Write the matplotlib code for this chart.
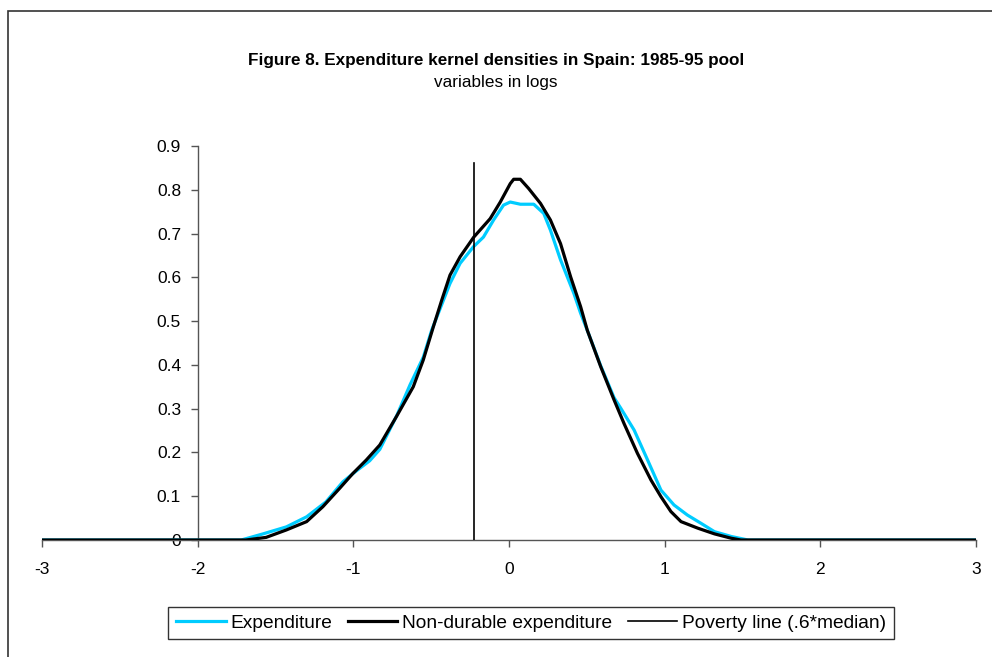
import matplotlib
matplotlib.use("Agg")
import matplotlib.pyplot as plt
from matplotlib.patches import Rectangle

plt.rcParams["font.family"] = ["Liberation Sans", "DejaVu Sans"]

# Kernel density of (log) total expenditure
exp_x = [-3.0, -1.72, -1.58, -1.43, -1.30, -1.176, -1.067, -0.98, -0.895, -0.83,
         -0.72, -0.635, -0.55, -0.497, -0.379, -0.314, -0.228, -0.164, -0.099,
         -0.035, 0.008, 0.073, 0.159, 0.223, 0.266, 0.331, 0.417, 0.46, 0.503,
         0.589, 0.675, 0.718, 0.804, 0.89, 0.976, 1.06, 1.146, 1.234, 1.32,
         1.428, 1.535, 3.0]
exp_y = [0.0, 0.0, 0.014, 0.030, 0.053, 0.087, 0.133, 0.158, 0.181, 0.207,
         0.285, 0.355, 0.418, 0.479, 0.586, 0.632, 0.670, 0.692, 0.731,
         0.765, 0.772, 0.767, 0.767, 0.746, 0.708, 0.640, 0.563, 0.518, 0.479,
         0.398, 0.325, 0.301, 0.251, 0.183, 0.114, 0.080, 0.057, 0.038, 0.019,
         0.008, 0.0, 0.0]

# Kernel density of (log) non-durable expenditure
nd_x = [-3.0, -1.69, -1.56, -1.43, -1.30, -1.196, -1.088, -1.003, -0.916, -0.83,
        -0.723, -0.615, -0.551, -0.486, -0.432, -0.379, -0.314, -0.226, -0.121,
        -0.056, 0.008, 0.03, 0.073, 0.126, 0.202, 0.266, 0.331, 0.396, 0.46,
        0.503, 0.589, 0.675, 0.739, 0.825, 0.912, 0.976, 1.04, 1.105, 1.213,
        1.32, 1.428, 1.49, 3.0]
nd_y = [0.0, 0.0, 0.006, 0.023, 0.042, 0.076, 0.118, 0.152, 0.183, 0.217,
        0.282, 0.350, 0.411, 0.487, 0.548, 0.605, 0.647, 0.692, 0.734,
        0.772, 0.814, 0.824, 0.824, 0.803, 0.769, 0.731, 0.677, 0.601, 0.533,
        0.479, 0.396, 0.320, 0.266, 0.198, 0.137, 0.099, 0.065, 0.042, 0.027,
        0.014, 0.004, 0.0, 0.0]

# Poverty line at .6 * median
pov_x = [-0.224, -0.224]
pov_y = [0.0, 0.861]

xticks = [-3, -2, -1, 0, 1, 2, 3]
yticks = [0, 0.1, 0.2, 0.3, 0.4, 0.5, 0.6, 0.7, 0.8, 0.9]
ytick_labels = ["0", "0.1", "0.2", "0.3", "0.4", "0.5", "0.6", "0.7", "0.8", "0.9"]

W, H = 992, 657
fig = plt.figure(figsize=(W / 100, H / 100), dpi=100)
fig.patch.set_facecolor("white")

# outer chart frame (right/bottom edges fall outside the picture)
fig.patches.append(Rectangle((8 / W, -0.5), 2.0, 1.5 - 11 / H,
                             transform=fig.transFigure, fill=False,
                             edgecolor="#333333", linewidth=1.2))

ax = fig.add_axes([42 / W, 1 - 540 / H, 934 / W, 394 / H])
ax.plot(exp_x, exp_y, color="#00CCFF", lw=2.3, label="Expenditure", zorder=3)
ax.plot(nd_x, nd_y, color="black", lw=2.3, label="Non-durable expenditure", zorder=4)
ax.plot(pov_x, pov_y, color="black", lw=1.2, label="Poverty line (.6*median)", zorder=5)

ax.set_xlim(-3, 3)
ax.set_ylim(0, 0.9)
ax.set_xticks(xticks)
ax.set_xticklabels([str(t) for t in xticks])
ax.set_yticks(yticks)
ax.set_yticklabels(ytick_labels)

for side in ["top", "right"]:
    ax.spines[side].set_visible(False)
ax.spines["left"].set_position(("data", -2))
ax.spines["bottom"].set_position(("data", 0))
for side in ["left", "bottom"]:
    ax.spines[side].set_color("#555555")
    ax.spines[side].set_linewidth(1.0)
ax.tick_params(axis="both", direction="out", length=5, width=1,
               color="#555555", labelsize=12.5)
ax.tick_params(axis="x", pad=11)
ax.tick_params(axis="y", pad=7)

fig.text(0.5, 1 - 60 / H, "Figure 8. Expenditure kernel densities in Spain: 1985-95 pool",
         ha="center", va="center", fontsize=12.3, fontweight="bold")
fig.text(0.5, 1 - 83 / H, "variables in logs", ha="center", va="center", fontsize=12.3)

leg = fig.legend(loc="center", bbox_to_anchor=(531 / W, 1 - 623 / H), ncol=3,
                 fontsize=13.8, frameon=True, fancybox=False, edgecolor="black",
                 handlelength=2.6, handletextpad=0.25, columnspacing=0.8,
                 borderpad=0.4, borderaxespad=0.0)
leg.get_frame().set_linewidth(1.0)

fig.savefig("out.png", dpi=100, facecolor="white")
